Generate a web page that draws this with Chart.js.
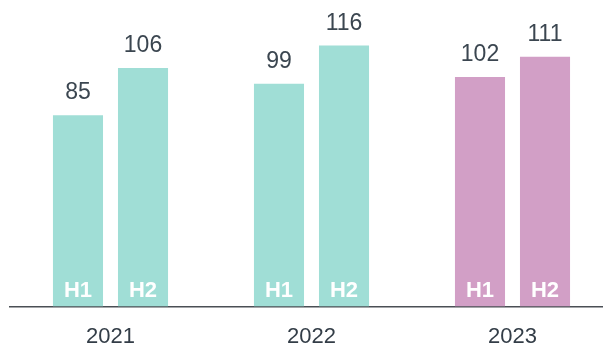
<!DOCTYPE html>
<html>
<head>
<meta charset="utf-8">
<script src="https://cdn.jsdelivr.net/npm/chart.js@4/dist/chart.umd.min.js"></script>
<style>
    html, body { margin: 0; padding: 0; background: #fff; overflow: hidden; }
    body { width: 603px; height: 345px; }
</style>
</head>
<body>
<canvas id="half_year_chart" width="613" height="345"></canvas>
<script>
var years = ["2021", "2022", "2023"];
var halves = ["H1", "H2"];
var valuesH1 = [85, 99, 102];
var valuesH2 = [106, 116, 111];
var yearColors = ["#a0ded6", "#a0ded6", "#d29fc6"];

var fontFamily = "'Liberation Sans', Arial, sans-serif";

// value on top of each bar, half label at the bottom inside it
var barLabels = {
    id: "barLabels",
    afterDatasetsDraw: function(chart) {
        var ctx = chart.ctx;
        ctx.save();
        ctx.textAlign = "center";
        ctx.textBaseline = "alphabetic";
        chart.data.datasets.forEach(function(ds, i) {
            var meta = chart.getDatasetMeta(i);
            meta.data.forEach(function(bar, j) {
                ctx.fillStyle = "#3b4650";
                ctx.font = "23px " + fontFamily;
                ctx.fillText(ds.data[j], bar.x, bar.y - 16);

                ctx.fillStyle = "#ffffff";
                ctx.font = "bold 22px " + fontFamily;
                ctx.fillText(ds.label, bar.x, bar.base - 10);
            });
        });
        ctx.restore();
    }
};

new Chart("half_year_chart", {
    type: "bar",
    data: {
        labels: years,
        datasets: [{
                label: halves[0],
                data: valuesH1,
                backgroundColor: yearColors,
            },
            {
                label: halves[1],
                data: valuesH2,
                backgroundColor: yearColors,
            },
        ]
    },
    options: {
        responsive: false,
        animation: false,
        categoryPercentage: 0.647,
        barPercentage: 0.77,
        layout: {
            padding: { left: 10, top: 14, right: 0, bottom: 0 }
        },
        plugins: {
            legend: { display: false },
            tooltip: { enabled: false }
        },
        scales: {
            x: {
                grid: { display: false, drawTicks: false },
                border: { display: true, color: "#4a4f55", width: 1.5 },
                ticks: {
                    color: "#333d47",
                    padding: 17,
                    font: { size: 22, family: fontFamily }
                },
                afterFit: function(scale) {
                    scale.height = 38.5;
                }
            },
            y: {
                display: false,
                min: 0,
                max: 130
            }
        }
    },
    plugins: [barLabels]
});
</script>
</body>
</html>
